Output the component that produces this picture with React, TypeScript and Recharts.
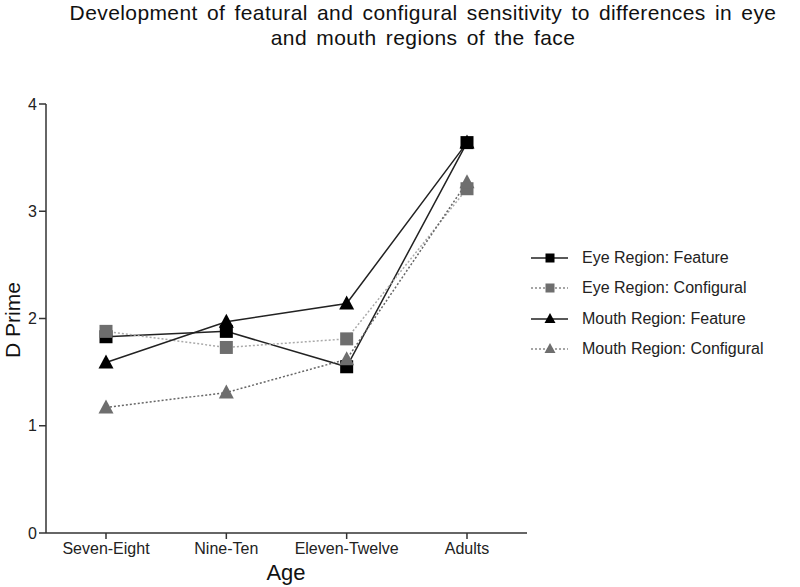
import { LineChart, Line, XAxis, YAxis } from 'recharts';

const ages = ['Seven-Eight', 'Nine-Ten', 'Eleven-Twelve', 'Adults'];
const eyeFeature = [1.83, 1.88, 1.55, 3.64];
const eyeConfigural = [1.88, 1.73, 1.81, 3.21];
const mouthFeature = [1.59, 1.97, 2.14, 3.64];
const mouthConfigural = [1.17, 1.31, 1.62, 3.27];
const yTicks = [0, 1, 2, 3, 4];

const data = ages.map((age, i) => ({
  age,
  eyeFeature: eyeFeature[i],
  eyeConfigural: eyeConfigural[i],
  mouthFeature: mouthFeature[i],
  mouthConfigural: mouthConfigural[i],
}));

const series = [
  { key: 'eyeFeature', name: 'Eye Region: Feature', stroke: '#222', dash: undefined, fill: '#000', shape: 'square' },
  { key: 'eyeConfigural', name: 'Eye Region: Configural', stroke: '#aaa', dash: '2 2', fill: '#6e6e6e', shape: 'square' },
  { key: 'mouthFeature', name: 'Mouth Region: Feature', stroke: '#222', dash: undefined, fill: '#000', shape: 'triangle' },
  { key: 'mouthConfigural', name: 'Mouth Region: Configural', stroke: '#666', dash: '2 2', fill: '#6e6e6e', shape: 'triangle' },
];

const font = '"Liberation Sans", Arial, sans-serif';

const Marker = ({ cx, cy, shape, fill, size = 13 }: any) => {
  if (cx == null || cy == null) return null;
  const h = size / 2;
  if (shape === 'square') return <rect x={cx - h} y={cy - h} width={size} height={size} fill={fill} />;
  return <polygon points={`${cx},${cy - h - 1.5} ${cx - h - 1},${cy + h - 0.5} ${cx + h + 1},${cy + h - 0.5}`} fill={fill} />;
};

const LegendBox = () => (
  <div style={{ position: 'absolute', left: 529, top: 243, fontFamily: font, fontSize: 16, color: '#222' }}>
    {series.map((s) => (
      <div key={s.key} style={{ display: 'flex', alignItems: 'center', height: 30.3 }}>
        <svg width={40} height={20}>
          <line x1={2} y1={10} x2={39} y2={10} stroke={s.dash ? '#888' : '#222'} strokeWidth={1.5} strokeDasharray={s.dash} />
          <Marker cx={21} cy={10} shape={s.shape} fill={s.fill} size={9} />
        </svg>
        <span style={{ marginLeft: 13 }}>{s.name}</span>
      </div>
    ))}
  </div>
);

export default function App() {
  return (
    <div style={{ position: 'absolute', left: 0, top: 0, width: 800, height: 587, background: '#fff', fontFamily: font }}>
      <div style={{ position: 'absolute', left: 23, width: 800, top: 0, textAlign: 'center', fontSize: 21, lineHeight: '25px',
        color: '#111', wordSpacing: 3, letterSpacing: 0.4 }}>
        Development of featural and configural sensitivity to differences in eye<br />and mouth regions of the face
      </div>
      <LineChart width={800} height={587} data={data} margin={{ top: 104, right: 273, left: 16, bottom: 24 }}>
        <XAxis dataKey="age" padding={{ left: 60, right: 60 }} stroke="#333" strokeWidth={1.5} tickSize={6}
          tick={{ fill: '#222', fontSize: 16, fontFamily: font, dy: 2 }} height={30} interval={0} />
        <YAxis domain={[0, 4]} ticks={yTicks} width={30} stroke="#333" strokeWidth={1.5} tickSize={7}
          tick={{ fill: '#222', fontSize: 16, fontFamily: font }} />
        {series.map((s) => (
          <Line key={s.key} dataKey={s.key} name={s.name} stroke={s.stroke} strokeWidth={1.5} strokeDasharray={s.dash}
            isAnimationActive={false} activeDot={false}
            dot={(p: any) => <Marker key={`${s.key}-${p.index}`} cx={p.cx} cy={p.cy} shape={s.shape} fill={s.fill} />} />
        ))}
      </LineChart>
      <div style={{ position: 'absolute', left: 286, top: 573, transform: 'translate(-50%, -50%)', fontSize: 22, color: '#111', whiteSpace: 'nowrap' }}>
        Age
      </div>
      <div style={{ position: 'absolute', left: 13, top: 320, transform: 'translate(-50%, -50%) rotate(-90deg)', fontSize: 21, lineHeight: '22px', color: '#111', whiteSpace: 'nowrap' }}>
        D Prime
      </div>
      <LegendBox />
    </div>
  );
}
